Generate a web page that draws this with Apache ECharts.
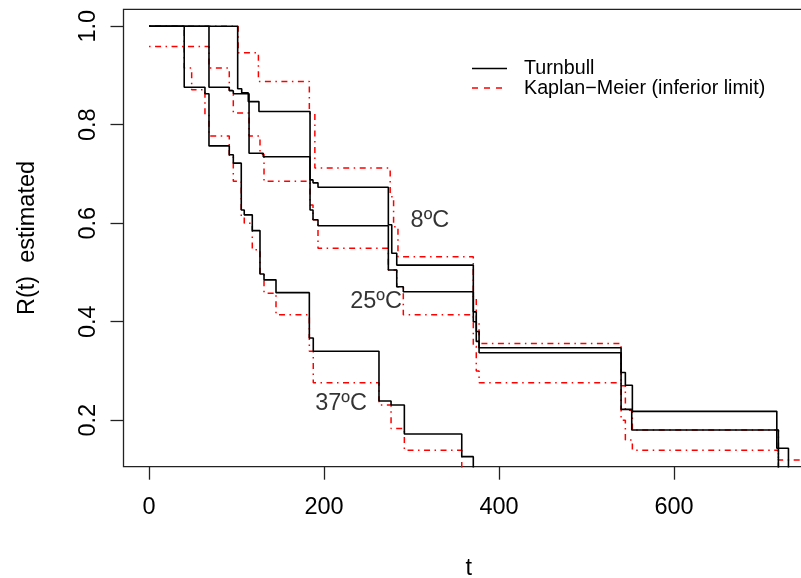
<!DOCTYPE html>
<html><head><meta charset="utf-8">
<script src="https://cdn.jsdelivr.net/npm/echarts@6/dist/echarts.min.js"></script>
<style>html,body{margin:0;padding:0;background:#fff}#c{width:801px;height:578px}</style>
</head><body><div id="c"></div>
<script>
// ---- data ----
const xTicks = [0, 200, 400, 600];
const yTicks = [0.2, 0.4, 0.6, 0.8, 1.0];

// 8ºC
const t8Turnbull = [0, 101.3, 105.9, 113.4, 125.6, 184, 187.4, 193.1, 273.5, 277.4, 283.1, 370.6, 374, 377.2, 539.5, 544.4, 552.4, 717.5, 730.8];
const r8Turnbull = [1.0, 0.873, 0.865, 0.847, 0.827, 0.688, 0.682, 0.673, 0.597, 0.539, 0.515, 0.42, 0.38, 0.347, 0.297, 0.271, 0.218, 0.143, 0];
const t8KM = [0, 101.8, 125, 183.2, 189.5, 275.6, 279.5, 284.5, 370.6, 374, 377.2, 539.5, 544.4, 552.4, 719.3, 760];
const r8KM = [1.0, 0.946, 0.888, 0.823, 0.712, 0.654, 0.593, 0.532, 0.45, 0.40, 0.356, 0.27, 0.22, 0.18, 0.119, 0.119];

// 25ºC
const t25Turnbull = [0, 68.5, 91.7, 96.3, 114.3, 130.5, 184, 187.4, 193.1, 273.5, 283.1, 290.6, 370.6, 374, 377.2, 539.5, 551.7, 719.3];
const r25Turnbull = [1.0, 0.876, 0.869, 0.863, 0.742, 0.735, 0.627, 0.607, 0.595, 0.505, 0.471, 0.461, 0.40, 0.36, 0.337, 0.222, 0.18, 0];
const t25KM = [0, 68.5, 91.7, 96.3, 114.3, 126.8, 131.4, 184, 187.4, 193.1, 273.5, 283.1, 290.6, 370.6, 374, 377.2, 539.5, 544.4, 552.4, 719.3];
const r25KM = [0.959, 0.915, 0.87, 0.824, 0.777, 0.74, 0.685, 0.637, 0.607, 0.549, 0.505, 0.471, 0.414, 0.35, 0.30, 0.276, 0.20, 0.16, 0.139, 0];

// 37ºC
const t37Turnbull = [0, 40.2, 63.9, 68.5, 91.7, 96.3, 105.4, 108.8, 118, 126.8, 131.4, 145.1, 183.2, 187.7, 262.8, 276.6, 291.8, 357.4, 370.6];
const r37Turnbull = [1.0, 0.876, 0.863, 0.757, 0.739, 0.722, 0.627, 0.617, 0.585, 0.497, 0.485, 0.459, 0.367, 0.340, 0.239, 0.231, 0.172, 0.126, 0];
const t37KM = [0, 40.2, 48.7, 63.9, 68.5, 91.7, 96.3, 105.4, 108.8, 118, 126.8, 131.4, 145.1, 183.2, 187.7, 262.8, 276.6, 291.8, 357.4];
const r37KM = [1.0, 0.915, 0.871, 0.82, 0.777, 0.735, 0.685, 0.613, 0.6, 0.546, 0.498, 0.458, 0.414, 0.34, 0.276, 0.231, 0.183, 0.139, 0];

// curve annotations
const noteText = ['8ºC', '25ºC', '37ºC'];
const noteT = [321, 259.4, 219.4];
const noteR = [0.605, 0.442, 0.233];

// ---- chart ----
const FONT = "'Liberation Sans', Arial, Helvetica, sans-serif";
const FS = 23.5;      // axis labels, titles, annotations
const FS_LEG = 19.7;  // legend
function pairs(t, r) { return t.map((v, i) => [v, r[i]]); }
const kmDash = [1.5, 4.5, 6, 4.5];

function turnbull(name, t, r) {
  return { name: name, type: 'line', step: 'end', symbol: 'none', data: pairs(t, r),
    lineStyle: { color: '#000', width: 1.6 }, silent: true, z: 3 };
}
function km(name, t, r) {
  return { name: name, type: 'line', step: 'end', symbol: 'none', data: pairs(t, r),
    lineStyle: { color: '#ff0000', width: 1.5, type: kmDash }, silent: true, z: 2 };
}

const chart = echarts.init(document.getElementById('c'), null, { renderer: 'canvas' });
chart.setOption({
  animation: false,
  backgroundColor: '#fff',
  textStyle: { fontFamily: FONT },
  grid: { left: 123.5, top: 9.3, width: 690.5, height: 457.4, show: true,
    outerBoundsMode: 'none', containLabel: false,
    borderColor: '#222', borderWidth: 1.3, backgroundColor: 'transparent' },
  xAxis: {
    type: 'value', min: -29.2, max: 760,
    name: 't', nameLocation: 'middle', nameGap: 90,
    nameTextStyle: { color: '#000', fontSize: FS, fontFamily: FONT },
    axisLine: { show: false, onZero: false },
    axisTick: { show: true, length: 13, customValues: xTicks, lineStyle: { color: '#222', width: 1.3 } },
    axisLabel: { customValues: xTicks, color: '#000', fontSize: FS, fontFamily: FONT, margin: 29 },
    splitLine: { show: false }
  },
  yAxis: {
    type: 'value', min: 0.1056, max: 1.0344,
    name: 'R(t)  estimated', nameLocation: 'middle', nameGap: 84, nameRotate: 90,
    nameTextStyle: { color: '#000', fontSize: FS, fontFamily: FONT },
    axisLine: { show: false, onZero: false },
    axisTick: { show: true, length: 13, customValues: yTicks, lineStyle: { color: '#222', width: 1.3 } },
    axisLabel: { customValues: yTicks, rotate: 90, color: '#000', fontSize: FS, fontFamily: FONT, margin: 23,
      formatter: v => v.toFixed(1) },
    splitLine: { show: false }
  },
  series: [
    turnbull('Turnbull 8ºC', t8Turnbull, r8Turnbull),
    turnbull('Turnbull 25ºC', t25Turnbull, r25Turnbull),
    turnbull('Turnbull 37ºC', t37Turnbull, r37Turnbull),
    km('Kaplan-Meier 8ºC', t8KM, r8KM),
    km('Kaplan-Meier 25ºC', t25KM, r25KM),
    km('Kaplan-Meier 37ºC', t37KM, r37KM),
    { type: 'scatter', symbolSize: 0, silent: true, z: 5,
      data: noteText.map((s, i) => [noteT[i], noteR[i], s]),
      label: { show: true, position: 'inside', formatter: p => p.data[2], color: '#000',
        fontSize: FS, fontFamily: FONT } }
  ],
  graphic: [
    { type: 'line', shape: { x1: 472, y1: 68.5, x2: 507, y2: 68.5 }, style: { stroke: '#000', lineWidth: 1.6 } },
    { type: 'line', shape: { x1: 472, y1: 88, x2: 507, y2: 88 }, style: { stroke: '#ff0000', lineWidth: 1.5, lineDash: [6, 6] } },
    { type: 'text', left: 524, top: 58.5, style: { text: 'Turnbull', fill: '#000', font: FS_LEG + 'px ' + FONT } },
    { type: 'text', left: 524, top: 78.5, style: { text: 'Kaplan\u2212Meier (inferior limit)', fill: '#000', font: FS_LEG + 'px ' + FONT } }
  ]
});
</script>
</body></html>
